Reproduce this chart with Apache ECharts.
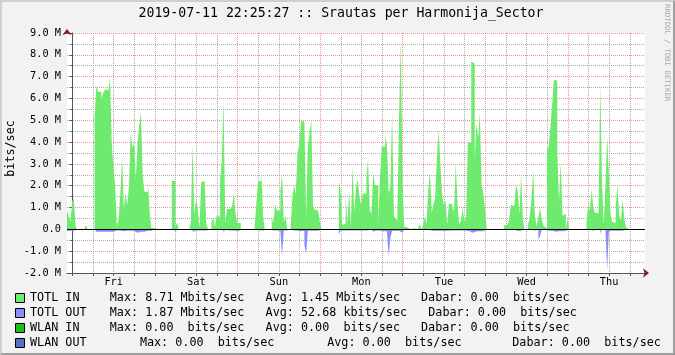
<!DOCTYPE html>
<html><head><meta charset="utf-8">
<script src="https://cdn.jsdelivr.net/npm/echarts@6/dist/echarts.min.js"></script>
<style>
html,body{margin:0;padding:0;background:#f2f2f2;}
#wrap{position:relative;width:675px;height:355px;}
#c{width:675px;height:355px;}
#shade{position:absolute;left:0;top:0;width:675px;height:355px;box-sizing:border-box;border-style:solid;border-width:2px;border-color:#cfcfcf #9e9e9e #9e9e9e #cfcfcf;pointer-events:none;}
</style></head>
<body><div id="wrap"><div id="c"></div><div id="shade"></div></div>
<script>
const chartTitle = '2019-07-11 22:25:27 :: Srautas per Harmonija_Sector';
const watermark = 'RRDTOOL / TOBI OETIKER';
const unitLabel = 'bits/sec';
const dayLabels = ['Fri','Sat','Sun','Mon','Tue','Wed','Thu'];
const dayNoonHours = [12, 36, 60, 84, 108, 132, 156];
// hours relative to Fri 00:00 ; first sample at Thu 22:25:27
const startHour = -(1 + 34/60 + 33/3600);
const stepHours = 0.5;
const spanHours = 168;

// TOTL IN, Mbit/s, one value per 30 minutes
const totlIn = [
0.85,0.6,0.35,1.3,1.42,0.12,0,0,0,0,0,0.2,
0,0,0,0,5.07,6.58,6.31,6.31,6.0,6.25,6.4,6.4,
6.3,6.98,3.97,2.85,1.98,0.14,0.49,1.62,3.28,0.95,1.67,1.1,
1.9,4.41,3.74,3.92,2.31,3.92,4.79,5.34,2.47,1.72,1.72,2.27,
0.81,0.06,0.06,0,0,0,0,0,0,0,0,0,
0,2.25,2.2,0.1,0.3,0,0,0.06,0,0,0,0,
0.37,3.89,0.67,1.44,0.98,0.06,2.17,2.2,2.2,0.25,0,0,
0.32,0.55,0.12,0.63,0.57,2.31,3.09,5.94,0.29,0.93,0.93,0.93,
1.06,1.67,0.72,0.29,0.29,0,0,0,0,0,0,0,
0,0,1.12,2.2,2.2,2.77,0.57,0,0,0,0,0.57,
0.29,1.16,0.86,0.86,1.72,2.54,0.32,0.63,0,0,0.14,1.44,
2.05,1.62,3.49,3.89,4.96,4.96,4.87,0.52,3.82,4.39,5.05,1.1,
0.9,0.86,0.86,0.34,0,0,0,0,0,0,0,0,
0,0,2.2,1.79,0.21,0.25,1.59,0.25,1.78,0.09,2.92,0.8,
1.94,2.27,1.49,1.1,1.65,1.62,2.36,3.23,0.86,0.72,2.54,2.02,
2.02,0.25,2.45,3.81,3.77,4.26,3.89,1.62,2.0,5.34,0.64,0.5,
0.4,5.0,8.71,2.31,0.12,0.09,0,0,0,0.05,0,0,
0,0.25,0,0.2,0.57,0.25,1.81,2.59,0.75,1.16,1.39,3.23,
4.58,3.09,1.64,1.13,1.36,0.21,1.16,1.16,1.01,0.83,3.05,1.2,
0.25,0.4,0.98,0.34,0.6,3.97,3.97,7.69,7.6,3.23,4.84,4.17,
5.34,2.05,1.65,0.95,0,0,0,0,0,0,0,0,
0,0,0.18,0.21,0.21,0.4,1.12,1.06,0.98,2.05,1.78,0.7,
2.54,0.44,0,0,0.21,0.55,1.39,2.7,0.6,0.15,0.55,0.98,
0.44,0.15,0.06,3.66,3.78,4.66,5.7,6.83,6.83,3.55,1.26,3.05,
0.63,0.7,0,0.49,0,0,0,0,0,0,0,0,
0,0,0.34,1.09,0.86,1.85,0.98,0.75,0.75,0.75,6.68,2.25,
0.21,1.94,4.24,2.5,0.67,0.34,0.29,1.09,2.02,0.64,0.44,1.35,
0.49,0.09,0,0,0,0,0,0,0,0,0,0
];

// TOTL OUT, Mbit/s (drawn below zero), one value per 30 minutes
const totlOut = [
-0.06,-0.06,0,-0.06,-0.06,0,0,0,0,0,0,0,
0,0,0,0,-0.05,-0.11,-0.11,-0.11,-0.11,-0.11,-0.11,-0.11,
-0.11,-0.11,-0.11,-0.05,-0.05,-0.02,-0.05,-0.05,-0.09,-0.05,-0.05,-0.05,
-0.06,-0.06,-0.06,-0.06,-0.15,-0.11,-0.11,-0.11,-0.11,-0.11,-0.06,-0.06,
-0.06,0,0,0,0,0,0,0,0,0,0,0,
0,-0.06,-0.06,0,0,0,0,0,0,0,0,0,
0,-0.11,-0.05,-0.05,-0.05,0,-0.05,-0.05,-0.05,0,0,0,
0,-0.05,0,-0.06,0,-0.05,-0.05,-0.15,0,-0.05,-0.05,-0.05,
0,-0.06,-0.06,-0.06,0,0,0,0,0,0,0,0,
0,0,-0.05,-0.05,-0.05,-0.05,0,0,0,0,0,-0.05,
-0.05,-0.05,-0.05,-0.05,-0.05,-1.22,-0.05,-0.05,0,0,0,-0.05,
-0.05,-0.05,-0.08,-0.08,-0.08,-0.08,-0.72,-1.13,-0.06,-0.06,-0.06,-0.06,
-0.06,-0.06,0,0,0,0,0,0,0,0,0,0,
0,0,-0.25,-0.05,-0.05,-0.05,-0.05,-0.05,-0.05,-0.05,-0.05,-0.05,
-0.05,-0.05,-0.05,-0.05,-0.05,-0.05,-0.05,-0.11,0,0,-0.11,-0.05,
-0.05,-0.06,0,-0.09,-0.09,-0.09,-0.09,-1.22,-0.38,-0.06,-0.06,-0.06,
-0.06,-0.06,-0.15,-0.06,0,0,0,0,0,0,0,0,
0,0,0,0,0,0,-0.06,-0.06,-0.06,-0.06,-0.06,-0.06,
-0.06,-0.06,-0.06,-0.06,-0.06,-0.06,-0.05,-0.05,-0.05,-0.05,-0.05,-0.05,
-0.05,-0.05,-0.05,-0.05,-0.05,-0.09,-0.15,-0.15,-0.09,-0.09,-0.09,-0.09,
-0.09,-0.09,-0.09,0,0,0,0,0,0,0,0,0,
0,0,0,0,0,0,-0.06,0,-0.08,-0.08,-0.08,-0.06,
-0.06,0,0,0,0,0,-0.06,-0.06,-0.06,0,-0.49,-0.32,
0,0,0,-0.06,-0.06,-0.06,-0.11,-0.11,-0.14,-0.09,-0.09,-0.09,
-0.06,-0.06,0,0,0,0,0,0,0,0,0,0,
0,0,0,0,0,-0.06,-0.06,0,0,0,-0.2,0,
0,-0.05,-1.87,-0.06,-0.06,-0.06,-0.06,-0.06,-0.06,-0.06,-0.06,-0.06,
0,0,0,0,0,0,0,0,0,0,0,0
];

const legendNames = ['TOTL IN','TOTL OUT','WLAN IN','WLAN OUT'];
const legendColors = ['#6eea6e','#8c8cff','#1ec01e','#5470c8'];
const legendMax = ['Max: 8.71 Mbits/sec','Max: 1.87 Mbits/sec','Max: 0.00  bits/sec','Max: 0.00  bits/sec'];
const legendAvg = ['Avg: 1.45 Mbits/sec','Avg: 52.68 kbits/sec','Avg: 0.00  bits/sec','Avg: 0.00  bits/sec'];
const legendNow = ['Dabar: 0.00  bits/sec','Dabar: 0.00  bits/sec','Dabar: 0.00  bits/sec','Dabar: 0.00  bits/sec'];

const MONO = '"DejaVu Sans Mono", "Liberation Mono", monospace';
const endHour = startHour + spanHours;
const MAJOR = 'rgba(222,79,79,0.6)';
const MINOR = 'rgba(143,143,143,0.75)';

function toSteps(arr) {
  const d = arr.map((v, i) => [startHour + i * stepHours, v]);
  d.push([startHour + arr.length * stepHours, 0]);
  return d;
}

const gridHours = [];
for (let h = 0; h <= endHour; h += 6) if (h >= startHour) gridHours.push(h);

const graphics = [];
graphics.push({type:'text', x: 341, y: 14, style:{text: chartTitle, font: '13.2px ' + MONO, fill:'#000', align:'center', verticalAlign:'middle', textAlign:'center', textVerticalAlign:'middle'}});
graphics.push({type:'text', x: 667, y: 4, rotation: -Math.PI/2, style:{text: watermark, font: '7.35px ' + MONO, fill:'#a8a8a8', align:'left', verticalAlign:'middle', textAlign:'left', textVerticalAlign:'middle'}});
graphics.push({type:'text', x: 10.5, y: 148.5, rotation: Math.PI/2, style:{text: unitLabel, font: '11.76px ' + MONO, fill:'#000', align:'center', verticalAlign:'middle', textAlign:'center', textVerticalAlign:'middle'}});
const colMax = [109.8,109.8,109.8,139.9];
const colAvg = [265.6,265.6,265.6,327.2];
const colNow = [421,428.3,421,512.3];
legendNames.forEach((n, k) => {
  const cy = 298 + 15 * k;
  graphics.push({type:'rect', shape:{x: 15.5, y: cy - 4.5, width: 9, height: 9}, style:{fill: legendColors[k], stroke:'#000', lineWidth: 1}});
  const parts = [[30, n], [colMax[k], legendMax[k]], [colAvg[k], legendAvg[k]], [colNow[k], legendNow[k]]];
  parts.forEach(p => graphics.push({type:'text', x: p[0], y: cy, style:{text: p[1], font: '11.76px ' + MONO, fill:'#000', align:'left', verticalAlign:'middle', textAlign:'left', textVerticalAlign:'middle'}}));
});

const chart = echarts.init(document.getElementById('c'), null, {renderer:'canvas'});
chart.setOption({
  animation: false,
  backgroundColor: '#f2f2f2',
  grid: {left: 67, top: 33, width: 578, height: 240, show: true, backgroundColor: '#ffffff', borderWidth: 0, containLabel: false, outerBoundsMode: 'none'},
  xAxis: [{
    type: 'value', min: startHour, max: endHour,
    axisLine: {show: true, onZero: false, lineStyle: {color: '#555', width: 1}},
    axisTick: {show: true, length: 3, lineStyle: {color: '#555'}, customValues: gridHours},
    axisLabel: {customValues: dayNoonHours, formatter: v => dayLabels[Math.round((v - 12) / 24)], fontFamily: MONO, fontSize: 10.3, color: '#000', margin: 4},
    splitLine: {show: true, showMinLine: true, showMaxLine: true, lineStyle: {color: [MAJOR, MINOR, MINOR, MINOR], type: [1,1], width: 1}}
  }, {
    type: 'value', min: 0, max: 1, position: 'bottom',
    axisLine: {show: true, onZero: false, symbol: ['none','arrow'], symbolSize: [7, 6], symbolOffset: [0, 4], lineStyle: {color: '#801f1f', width: 0}},
    axisTick: {show: false}, axisLabel: {show: false}, splitLine: {show: false}
  }],
  yAxis: [{
    type: 'value', min: -2, max: 9, interval: 1,
    axisLine: {show: true, lineStyle: {color: '#555', width: 1}},
    axisTick: {show: true, length: 3, lineStyle: {color: '#555'}},
    minorTick: {show: true, splitNumber: 2, length: 2, lineStyle: {color: '#555'}},
    axisLabel: {formatter: v => v === 0 ? '0.0' : v.toFixed(1) + ' M', fontFamily: MONO, fontSize: 10.3, color: '#000', margin: 6},
    splitLine: {show: true, lineStyle: {color: MAJOR, type: [1,1], width: 1}},
    minorSplitLine: {show: true, lineStyle: {color: MINOR, type: [1,1], width: 1}}
  }, {
    type: 'value', min: 0, max: 1, position: 'left',
    axisLine: {show: true, symbol: ['none','arrow'], symbolSize: [7, 6], symbolOffset: [0, 4], lineStyle: {color: '#801f1f', width: 0}},
    axisTick: {show: false}, axisLabel: {show: false}, splitLine: {show: false}
  }],
  graphic: graphics,
  series: [
    {name: 'TOTL IN', type: 'line', step: 'end', data: toSteps(totlIn), showSymbol: false, symbol: 'none', silent: true, z: 10,
     lineStyle: {width: 0}, areaStyle: {color: legendColors[0], opacity: 1}},
    {name: 'TOTL OUT', type: 'line', step: 'end', data: toSteps(totlOut), showSymbol: false, symbol: 'none', silent: true, z: 10,
     lineStyle: {width: 0}, areaStyle: {color: legendColors[1], opacity: 1}},
    {type: 'line', data: [], z: 20, silent: true,
     markLine: {z: 20, silent: true, symbol: ['none','none'], label: {show: false}, animation: false,
       data: [{yAxis: 0, lineStyle: {color: '#000', type: 'solid', width: 1}}]}}
  ]
});
</script>
</body></html>
